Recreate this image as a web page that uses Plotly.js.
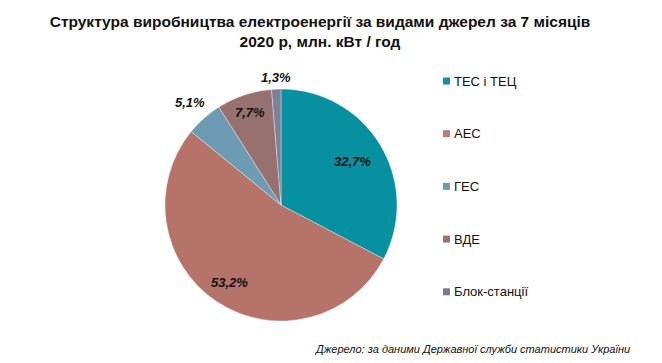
<!DOCTYPE html>
<html>
<head>
<meta charset="utf-8">
<script src="https://cdn.plot.ly/plotly-3.0.1.min.js"></script>
<style>
html,body{margin:0;padding:0;background:#fff;}
#chart{width:662px;height:363px;}
</style>
</head>
<body>
<div id="chart"></div>
<script>
const categories = ["ТЕС і ТЕЦ", "АЕС", "ГЕС", "ВДЕ", "Блок-станції"];
const shares = [32.7, 53.2, 5.1, 7.7, 1.3];
const sliceColors = ["#0791a0", "#b5736a", "#6d9bb4", "#96716f", "#7c8098"];
const legendColors = ["#11929f", "#c07a70", "#6f9ab5", "#9a7473", "#777b90"];
const labelRadius = [0.72, 0.80, 1.18, 0.84, 1.10];
const titleText = "Структура виробництва електроенергії за видами джерел за 7 місяців<br>2020 р, млн. кВт / год";
const sourceText = "Джерело: за даними Державної служби статистики України";

const W = 662, H = 363;
const cx = 281, cy = 205, r = 116;
const FONT = 'Liberation Sans, Arial, sans-serif';

const labelTexts = shares.map(v => v.toFixed(1).replace('.', ',') + '%');

const trace = {
  type: 'pie',
  labels: categories,
  values: shares,
  text: labelTexts,
  textinfo: 'none',
  sort: false,
  direction: 'clockwise',
  rotation: 0,
  marker: {colors: sliceColors, line: {color: 'rgba(255,255,255,0.6)', width: 0.6}},
  domain: {x: [(cx - r) / W, (cx + r) / W], y: [(H - cy - r) / H, (H - cy + r) / H]},
  showlegend: false,
  hoverinfo: 'label+text'
};

const shapes = [];
const annotations = [];

// data labels at each slice's mid-angle
const total = shares.reduce((a, b) => a + b, 0);
let cum = 0;
shares.forEach((v, i) => {
  const mid = (cum + v / 2) / total * 2 * Math.PI;
  cum += v;
  const d = r * labelRadius[i];
  const px = cx + d * Math.sin(mid);
  const py = cy - d * Math.cos(mid);
  annotations.push({xref: 'paper', yref: 'paper', x: px / W, y: (H - py) / H,
    xanchor: 'center', yanchor: 'middle', showarrow: false, text: labelTexts[i],
    font: {family: FONT, size: 13, color: '#111', weight: 'bold', style: 'italic'}});
});

// custom legend built from categories and colours
const legendY0 = 81, legendStep = 52.7, legendX = 443;
categories.forEach((c, i) => {
  const y = legendY0 + i * legendStep;
  shapes.push({type: 'rect', xref: 'paper', yref: 'paper',
    x0: legendX / W, x1: (legendX + 7) / W,
    y0: (H - y - 3.5) / H, y1: (H - y + 3.5) / H,
    fillcolor: legendColors[i], line: {width: 0}});
  annotations.push({xref: 'paper', yref: 'paper', x: (legendX + 9) / W, y: (H - y) / H,
    xanchor: 'left', yanchor: 'middle', showarrow: false, text: c,
    font: {family: FONT, size: 13, color: '#111'}});
});
annotations.push({xref: 'paper', yref: 'paper', x: 632 / W, y: (H - 349) / H,
  xanchor: 'right', yanchor: 'middle', showarrow: false, text: sourceText,
  font: {family: FONT, size: 11, color: '#111', style: 'italic'}});

const layout = {
  width: W, height: H,
  margin: {l: 0, r: 0, t: 0, b: 0},
  paper_bgcolor: '#fff',
  title: {text: titleText, x: 320 / W, xanchor: 'center', y: (H - 27) / H, yanchor: 'middle',
    font: {family: FONT, size: 15.5, color: '#111', weight: 'bold'}},
  showlegend: false,
  shapes: shapes,
  annotations: annotations
};

Plotly.newPlot('chart', [trace], layout, {displayModeBar: false, staticPlot: true});
</script>
</body>
</html>
